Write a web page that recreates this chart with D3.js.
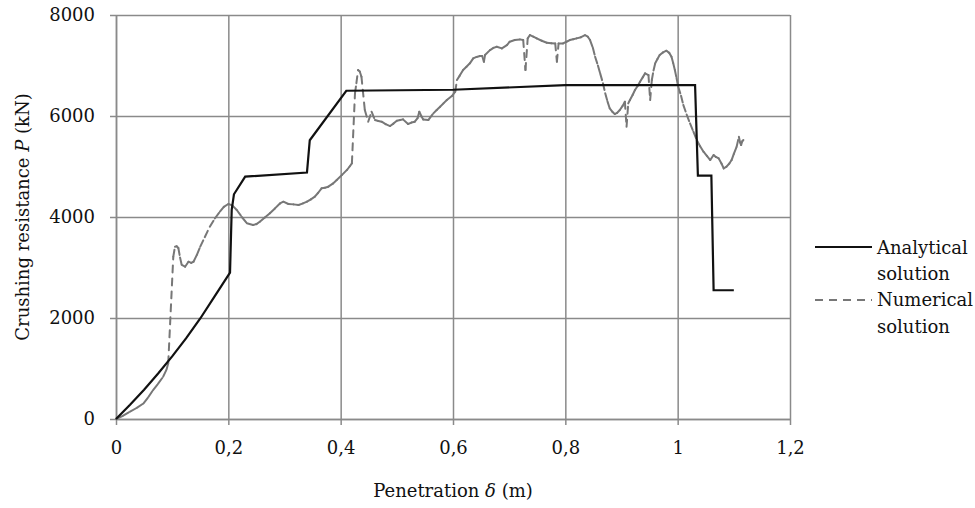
<!DOCTYPE html>
<html>
<head>
<meta charset="utf-8">
<script src="https://cdn.jsdelivr.net/npm/d3@7"></script>
<style>
  html, body { margin: 0; padding: 0; background: #fff; }
  svg { display: block; }
  text { font-family: "DejaVu Serif", serif; fill: #111; }
</style>
</head>
<body>
<svg id="chart" width="975" height="508"></svg>
<script>
// ---- Data ----
const xTicks = [0, 0.2, 0.4, 0.6, 0.8, 1.0, 1.2];
const xTickLabels = ["0", "0,2", "0,4", "0,6", "0,8", "1", "1,2"];
const yTicks = [0, 2000, 4000, 6000, 8000];
const yTickLabels = ["0", "2000", "4000", "6000", "8000"];

const seriesNames = ["Analytical", "Numerical"];

const analyticalX = [0, 0.025, 0.05, 0.075, 0.1, 0.125, 0.15, 0.175, 0.203, 0.206, 0.21, 0.23, 0.34, 0.345, 0.41, 0.6, 0.8, 1.031, 1.036, 1.06, 1.064, 1.1];
const analyticalY = [0, 280, 580, 900, 1240, 1600, 1990, 2420, 2900, 4140, 4450, 4800, 4880, 5520, 6500, 6520, 6610, 6610, 4820, 4820, 2550, 2550];

const numericalX = [0, 0.012, 0.025, 0.037, 0.049, 0.058, 0.066, 0.075, 0.084, 0.090, 0.093, 0.102, 0.105, 0.108, 0.111, 0.114, 0.117, 0.123, 0.129, 0.134, 0.138, 0.144, 0.150, 0.158, 0.167, 0.176, 0.185, 0.192, 0.200, 0.207, 0.215, 0.224, 0.233, 0.244, 0.250, 0.256, 0.265, 0.274, 0.283, 0.292, 0.298, 0.307, 0.316, 0.325, 0.333, 0.340, 0.347, 0.354, 0.360, 0.366, 0.372, 0.378, 0.386, 0.393, 0.402, 0.411, 0.416, 0.420, 0.4255, 0.428, 0.431, 0.434, 0.437, 0.443, 0.449, 0.455, 0.461, 0.467, 0.473, 0.480, 0.488, 0.494, 0.500, 0.506, 0.511, 0.520, 0.526, 0.532, 0.537, 0.540, 0.544, 0.547, 0.556, 0.565, 0.571, 0.577, 0.583, 0.589, 0.598, 0.604, 0.607, 0.612, 0.618, 0.624, 0.630, 0.636, 0.642, 0.648, 0.652, 0.655, 0.657, 0.666, 0.672, 0.678, 0.687, 0.696, 0.701, 0.710, 0.719, 0.725, 0.729, 0.733, 0.737, 0.743, 0.749, 0.758, 0.767, 0.775, 0.782, 0.785, 0.788, 0.796, 0.802, 0.808, 0.814, 0.820, 0.828, 0.835, 0.840, 0.844, 0.849, 0.853, 0.858, 0.862, 0.867, 0.871, 0.875, 0.879, 0.884, 0.888, 0.892, 0.897, 0.902, 0.906, 0.909, 0.912, 0.915, 0.920, 0.924, 0.929, 0.933, 0.938, 0.942, 0.948, 0.951, 0.954, 0.957, 0.960, 0.964, 0.968, 0.974, 0.980, 0.985, 0.989, 0.992, 0.995, 0.998, 1.001, 1.006, 1.010, 1.016, 1.022, 1.028, 1.034, 1.040, 1.046, 1.052, 1.058, 1.064, 1.068, 1.073, 1.078, 1.082, 1.087, 1.092, 1.096, 1.100, 1.105, 1.109, 1.111, 1.113, 1.115, 1.117];
const numericalY = [0, 60, 145, 220, 310, 440, 574, 700, 838, 980, 1103, 3214, 3412, 3420, 3386, 3200, 3050, 3016, 3115, 3090, 3115, 3250, 3412, 3600, 3808, 3970, 4105, 4200, 4257, 4230, 4138, 4000, 3875, 3841, 3860, 3907, 3990, 4073, 4170, 4270, 4303, 4257, 4250, 4237, 4270, 4303, 4350, 4402, 4480, 4568, 4580, 4600, 4660, 4732, 4830, 4930, 5000, 5063, 6449, 6650, 6910, 6880, 6778, 6118, 5887, 6085, 5920, 5900, 5887, 5840, 5801, 5850, 5906, 5920, 5933, 5841, 5870, 5887, 5960, 6085, 5990, 5933, 5920, 6052, 6120, 6184, 6250, 6316, 6395, 6481, 6712, 6800, 6910, 6976, 7043, 7142, 7170, 7187, 7190, 7075, 7207, 7306, 7350, 7372, 7339, 7405, 7471, 7504, 7517, 7504, 6910, 7537, 7603, 7570, 7537, 7490, 7451, 7440, 7438, 7075, 7438, 7438, 7470, 7504, 7520, 7537, 7560, 7600, 7570, 7504, 7350, 7174, 7000, 6844, 6650, 6449, 6290, 6152, 6080, 6039, 6060, 6118, 6200, 6283, 5787, 6250, 6316, 6420, 6514, 6600, 6679, 6770, 6844, 6811, 6316, 6712, 6900, 7043, 7130, 7207, 7260, 7293, 7250, 7174, 7050, 6910, 6750, 6580, 6400, 6220, 6030, 5854, 5690, 5524, 5400, 5293, 5210, 5128, 5227, 5190, 5161, 5060, 4963, 4996, 5060, 5128, 5250, 5392, 5590, 5480, 5425, 5500, 5524];

// ---- Layout ----
const svg = d3.select("#chart");
const margin = { left: 116, right: 185, top: 15, bottom: 89 };
const W = 975, H = 508;
const x = d3.scaleLinear().domain([0, 1.2]).range([margin.left, W - margin.right]);
const y = d3.scaleLinear().domain([0, 8000]).range([H - margin.bottom, margin.top]);
const gridColor = "#8a8a8a";

// Horizontal gridlines + y labels
const yAxis = d3.axisLeft(y).tickValues(yTicks)
  .tickFormat((d, i) => yTickLabels[i])
  .tickSizeInner(-(x(1.2) - x(0))).tickSizeOuter(0).tickPadding(21);
const gy = svg.append("g").attr("transform", `translate(${x(0)},0)`).call(yAxis);
gy.select(".domain").attr("stroke", gridColor).attr("stroke-width", 1.5);
gy.selectAll(".tick line").attr("stroke", gridColor).attr("stroke-width", 1.5).attr("x1", -6);
gy.selectAll(".tick text").attr("font-size", 18).attr("font-family", "DejaVu Serif").attr("fill", "#111");

// Vertical gridlines + x labels
const xAxis = d3.axisBottom(x).tickValues(xTicks)
  .tickFormat((d, i) => xTickLabels[i])
  .tickSizeInner(6).tickSizeOuter(0).tickPadding(16);
const gx = svg.append("g").attr("transform", `translate(0,${y(0)})`).call(xAxis);
gx.select(".domain").attr("stroke", gridColor).attr("stroke-width", 1.5);
gx.selectAll(".tick line").attr("stroke", gridColor).attr("stroke-width", 1.5)
  .attr("y1", -(y(0) - y(8000)));
gx.selectAll(".tick text").attr("font-size", 18).attr("font-family", "DejaVu Serif").attr("fill", "#111");

// Axis titles
svg.append("text")
  .attr("x", (x(0) + x(1.2)) / 2).attr("y", 497)
  .attr("text-anchor", "middle").attr("font-size", 18)
  .html('Penetration <tspan font-style="italic">δ</tspan> (m)');
svg.append("text")
  .attr("transform", `translate(29,${(y(0) + y(8000)) / 2}) rotate(-90)`)
  .attr("text-anchor", "middle").attr("font-size", 18)
  .html('Crushing resistance <tspan font-style="italic">P</tspan> (kN)');

// Numerical series (dash pattern restarts on every segment)
const numPts = numericalX.map((v, i) => [v, numericalY[i]]);
svg.append("g").selectAll("line")
  .data(d3.pairs(numPts))
  .join("line")
  .attr("x1", d => x(d[0][0])).attr("y1", d => y(d[0][1]))
  .attr("x2", d => x(d[1][0])).attr("y2", d => y(d[1][1]))
  .attr("stroke", "#777").attr("stroke-width", 2)
  .attr("stroke-linecap", "round")
  .attr("stroke-dasharray", "7,6");

// Analytical series
const anaPts = analyticalX.map((v, i) => [v, analyticalY[i]]);
svg.append("path")
  .datum(anaPts)
  .attr("fill", "none").attr("stroke", "#111").attr("stroke-width", 2.2)
  .attr("stroke-linejoin", "miter")
  .attr("d", d3.line().x(d => x(d[0])).y(d => y(d[1])));

// Legend
const leg = svg.append("g");
leg.append("line").attr("x1", 815).attr("x2", 872).attr("y1", 247).attr("y2", 247)
  .attr("stroke", "#111").attr("stroke-width", 2.2);
leg.append("line").attr("x1", 815).attr("x2", 872).attr("y1", 300).attr("y2", 300)
  .attr("stroke", "#777").attr("stroke-width", 2).attr("stroke-dasharray", "8,6");
const legText = [[seriesNames[0], 254], ["solution", 280], [seriesNames[1], 306], ["solution", 333]];
leg.selectAll("text.l").data(legText).join("text")
  .attr("class", "l").attr("x", 877).attr("y", d => d[1])
  .attr("font-size", 18).text(d => d[0]);
</script>
</body>
</html>
